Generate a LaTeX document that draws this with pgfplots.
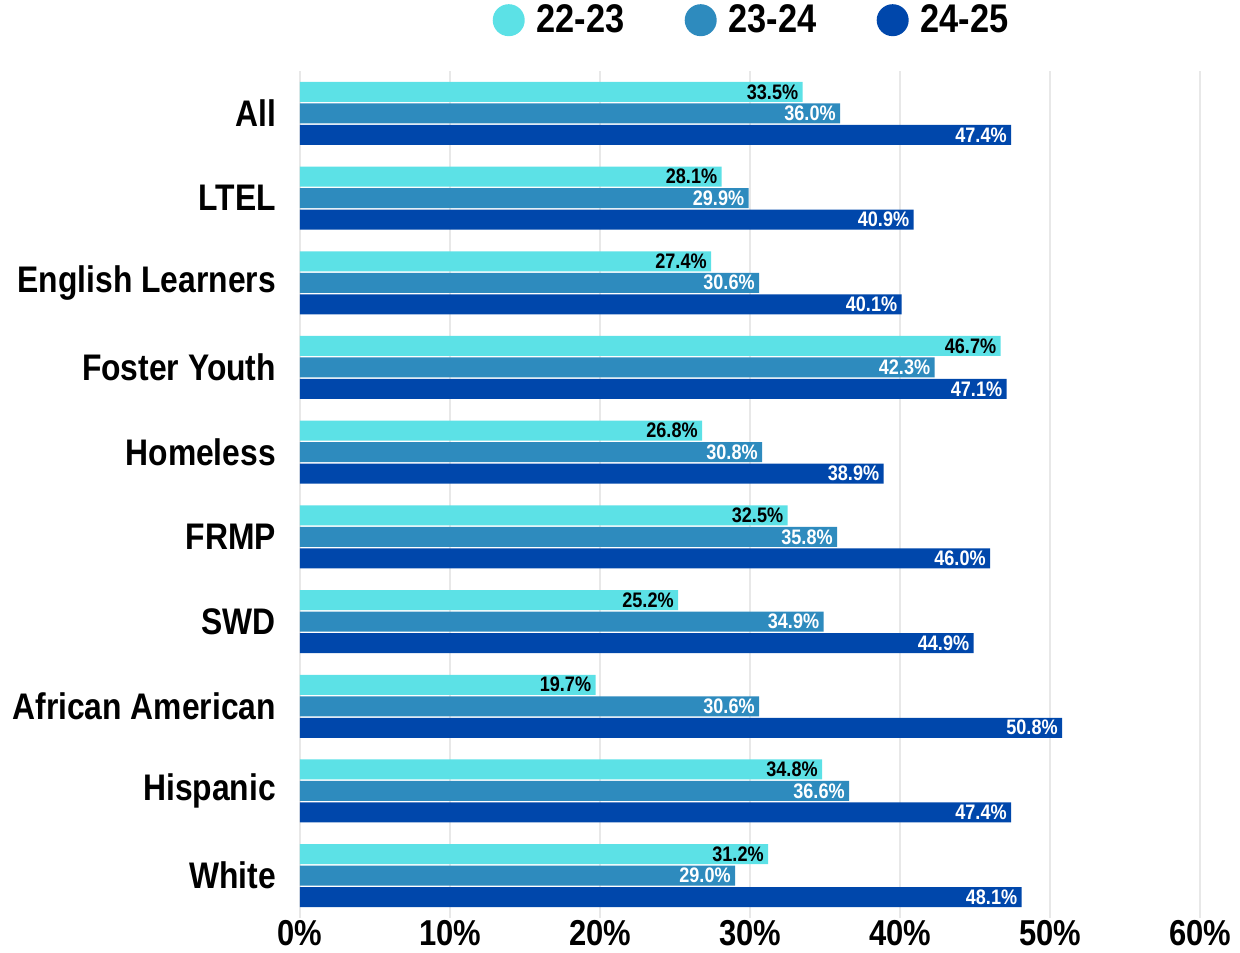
\documentclass[border=0pt]{standalone}
\usepackage{fontspec}
\setmainfont{Liberation Sans}[FakeStretch=0.86]
\usepackage{pgfplots}
\usepackage{pgfplotstable}
\pgfplotsset{compat=1.18}
\definecolor{cA}{HTML}{5CE1E6}
\definecolor{cB}{HTML}{2E8BBE}
\definecolor{cC}{HTML}{0047AB}
\pgfplotstableread{
y x
0 33.5
1 28.1
2 27.4
3 46.7
4 26.8
5 32.5
6 25.2
7 19.7
8 34.8
9 31.2
}\dataA
\pgfplotstableread{
y x
0 36.0
1 29.9
2 30.6
3 42.3
4 30.8
5 35.8
6 34.9
7 30.6
8 36.6
9 29.0
}\dataB
\pgfplotstableread{
y x
0 47.4
1 40.9
2 40.1
3 47.1
4 38.9
5 46.0
6 44.9
7 50.8
8 47.4
9 48.1
}\dataC
\begin{document}
\begin{tikzpicture}
\useasboundingbox (-150pt,-17pt) rectangle (470pt,459pt);
\begin{axis}[
  scale only axis,
  width=450pt, height=423.5pt,
  xbar, bar width=10pt,
  xmin=0, xmax=60,
  ymin=-0.5, ymax=9.5,
  y dir=reverse,
  xtick={0,10,...,60},
  xticklabel={\pgfmathprintnumber[assume math mode=true]{\tick}\%},
  ytick={0,...,9},
  yticklabels={All,LTEL,English Learners,Foster Youth,Homeless,FRMP,SWD,African American,Hispanic,White},
  yticklabel style={font=\bfseries\fontsize{18.5}{20}\selectfont, xshift=-8.5pt},
  xticklabel style={font=\bfseries\fontsize{18}{19}\selectfont, yshift=2.5pt},
  axis line style={draw=none},
  major tick length=0pt,
  xmajorgrids, grid style={gray!18, line width=0.6pt},
  nodes near coords={\pgfmathprintnumber[fixed,fixed zerofill,precision=1,assume math mode=true]{\pgfplotspointmeta}\%},
  point meta=x,
  every node near coord/.append style={anchor=east, inner sep=1pt, xshift=-1pt, font=\bfseries\fontsize{10.5}{11}\selectfont},
  legend columns=3,
  legend style={at={(0.503,1.06)}, anchor=center, draw=none, fill=none,
     font=\bfseries\fontsize{20}{21}\selectfont,
     /tikz/every odd column/.append style={column sep=4pt},
     /tikz/every even column/.append style={column sep=28pt}},
]
\addplot[fill=cA, draw=none, bar shift=10.75pt, every node near coord/.append style={text=black},
  legend image code/.code={\fill[cA] (8pt,0pt) circle (8pt);}] table[x=x,y=y] {\dataA};
\addplot[fill=cB, draw=none, bar shift=0pt, every node near coord/.append style={text=white},
  legend image code/.code={\fill[cB] (8pt,0pt) circle (8pt);}] table[x=x,y=y] {\dataB};
\addplot[fill=cC, draw=none, bar shift=-10.75pt, every node near coord/.append style={text=white},
  legend image code/.code={\fill[cC] (8pt,0pt) circle (8pt);}] table[x=x,y=y] {\dataC};
\legend{22-23,23-24,24-25}
\end{axis}
\end{tikzpicture}
\end{document}
